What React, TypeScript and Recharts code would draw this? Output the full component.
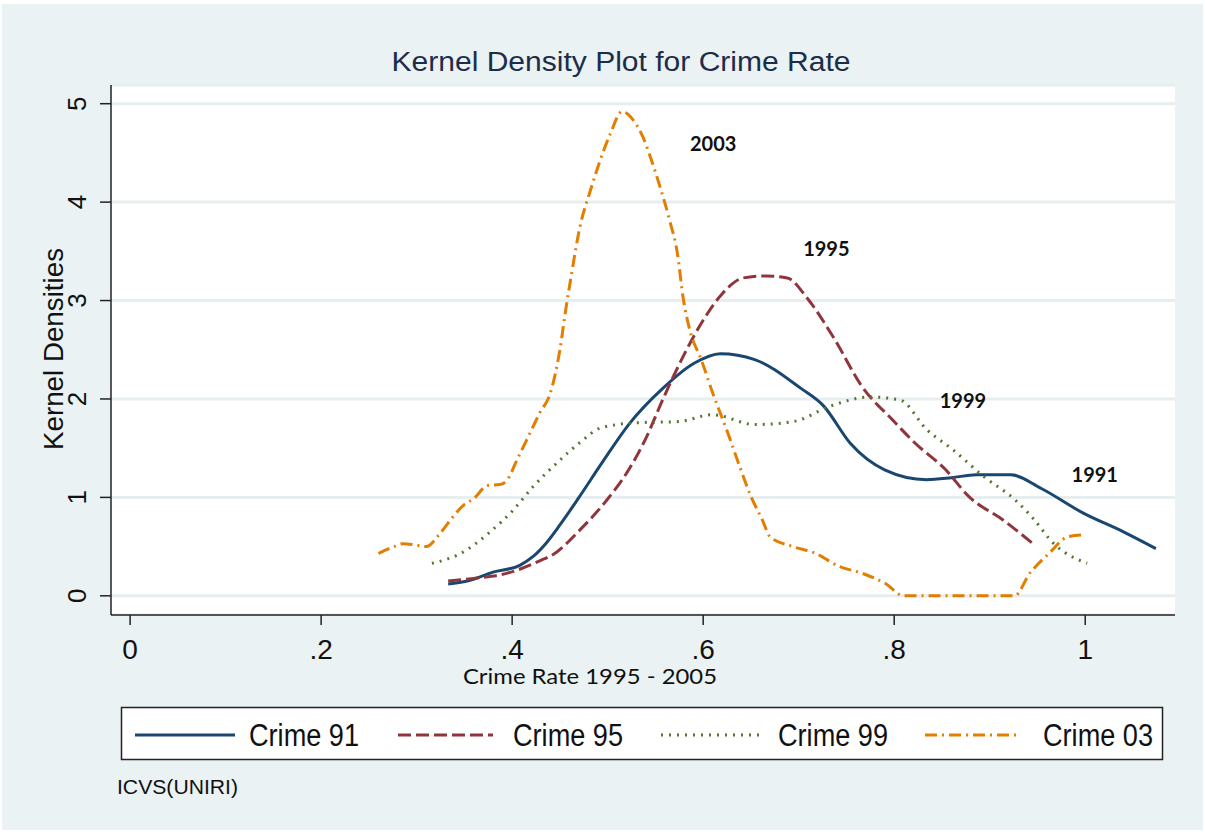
import { CartesianGrid, Line, LineChart, ReferenceDot, XAxis, YAxis } from "recharts";

// kernel density estimates, one pair of arrays per survey year
const crime91Rate = [0.333, 0.353, 0.38, 0.408, 0.422, 0.436, 0.45, 0.47, 0.494, 0.522, 0.558, 0.59, 0.618, 0.654, 0.702, 0.726, 0.754, 0.79, 0.834, 0.86, 0.886, 0.922, 0.954, 0.998, 1.04, 1.074];
const crime91Density = [0.12, 0.15, 0.24, 0.31, 0.4, 0.54, 0.72, 1.0, 1.35, 1.74, 2.11, 2.36, 2.46, 2.4, 2.11, 1.93, 1.55, 1.28, 1.18, 1.2, 1.23, 1.23, 1.09, 0.84, 0.65, 0.48];

const crime95Rate = [0.333, 0.363, 0.395, 0.43, 0.443, 0.47, 0.498, 0.522, 0.54, 0.558, 0.58, 0.6, 0.62, 0.642, 0.665, 0.688, 0.71, 0.738, 0.766, 0.798, 0.822, 0.854, 0.878, 0.914, 0.944];
const crime95Density = [0.15, 0.18, 0.23, 0.36, 0.42, 0.66, 0.96, 1.28, 1.6, 2.0, 2.45, 2.8, 3.07, 3.23, 3.25, 3.23, 3.01, 2.6, 2.13, 1.79, 1.55, 1.28, 1.01, 0.77, 0.54];

const crime99Rate = [0.316, 0.346, 0.377, 0.401, 0.422, 0.448, 0.47, 0.494, 0.534, 0.574, 0.61, 0.654, 0.694, 0.734, 0.774, 0.806, 0.834, 0.862, 0.894, 0.926, 0.946, 0.966, 1.002];
const crime99Density = [0.33, 0.43, 0.65, 0.87, 1.11, 1.36, 1.55, 1.71, 1.76, 1.77, 1.84, 1.74, 1.77, 1.93, 2.02, 1.99, 1.69, 1.48, 1.21, 0.98, 0.78, 0.54, 0.33];

const crime03Rate = [0.26, 0.276, 0.286, 0.297, 0.31, 0.325, 0.337, 0.349, 0.36, 0.374, 0.387, 0.395, 0.405, 0.415, 0.429, 0.44, 0.45, 0.456, 0.461, 0.471, 0.482, 0.492, 0.503, 0.515, 0.527, 0.537, 0.545, 0.555, 0.565, 0.573, 0.579, 0.586, 0.598, 0.61, 0.626, 0.638, 0.65, 0.662, 0.67, 0.694, 0.718, 0.742, 0.766, 0.79, 0.81, 0.87, 0.926, 0.942, 0.962, 0.982, 1.0];
const crime03Density = [0.43, 0.5, 0.53, 0.52, 0.5, 0.64, 0.79, 0.92, 0.99, 1.12, 1.13, 1.18, 1.38, 1.58, 1.86, 2.06, 2.5, 2.9, 3.2, 3.75, 4.12, 4.42, 4.7, 4.92, 4.83, 4.66, 4.45, 4.15, 3.81, 3.48, 3.03, 2.7, 2.4, 2.06, 1.65, 1.32, 1.01, 0.77, 0.6, 0.5, 0.43, 0.3, 0.23, 0.13, 0, 0, 0, 0.23, 0.43, 0.6, 0.62];

const seriesNames = ["Crime 91", "Crime 95", "Crime 99", "Crime 03"];
const xTicks = [0, 0.2, 0.4, 0.6, 0.8, 1];
const yTicks = [0, 1, 2, 3, 4, 5];

// year tags written next to each curve (anchored in data units)
const yearTags = ["2003", "1995", "1999", "1991"];
const yearTagRate = [0.6105, 0.729, 0.872, 1.01];
const yearTagDensity = [4.59, 3.52, 1.985, 1.233];

const toPoints = (rate: number[], density: number[]) =>
  rate.map((r, i) => ({ rate: r, density: density[i] }));

const SANS = "'Liberation Sans', Arial, sans-serif";
const CALIBRI_LIKE = "Lato, 'Open Sans', sans-serif";

const styles = [
  { color: "#1a476f", dash: undefined as string | undefined },
  { color: "#90353b", dash: "13 5" },
  { color: "#55752f", dash: "2 6" },
  { color: "#e37e00", dash: "12 5 2 5" },
];

const series = [
  toPoints(crime91Rate, crime91Density),
  toPoints(crime95Rate, crime95Density),
  toPoints(crime99Rate, crime99Density),
  toPoints(crime03Rate, crime03Density),
];

const fmtRate = (v: number) => String(v).replace(/^0\./, ".");

function XTick(props: any) {
  const { x, y, payload } = props;
  return (
    <text x={x} y={y + 34} textAnchor="middle" fontSize={28} fontFamily={SANS} fill="#111">
      {fmtRate(payload.value)}
    </text>
  );
}

function YTick(props: any) {
  const { x, y, payload } = props;
  const bx = x - 14;
  return (
    <text
      x={bx}
      y={y}
      transform={`rotate(-90 ${bx} ${y})`}
      textAnchor="middle"
      fontSize={26}
      fontFamily={SANS}
      fill="#111"
    >
      {payload.value}
    </text>
  );
}

function Overlay() {
  const legendX = [135, 398, 661, 925];
  const legendEnd = [235, 493, 763, 1016];
  const textX = [249, 513, 778, 1043];
  return (
    <svg
      width={1205}
      height={832}
      style={{ position: "absolute", left: 0, top: 0, pointerEvents: "none" }}
    >
      <text x={621} y={71} textAnchor="middle" fontSize={27} fontFamily={SANS} fill="#1c2d4a" textLength={459} lengthAdjust="spacingAndGlyphs">
        Kernel Density Plot for Crime Rate
      </text>
      <text
        x={63}
        y={349}
        transform="rotate(-90 63 349)"
        textAnchor="middle"
        fontSize={27}
        fontFamily={SANS}
        fill="#111"
        textLength={202}
        lengthAdjust="spacingAndGlyphs"
      >
        Kernel Densities
      </text>
      <text x={463} y={684} fontSize={21} fontFamily={CALIBRI_LIKE} fill="#111" textLength={254} lengthAdjust="spacingAndGlyphs">
        Crime Rate 1995 - 2005
      </text>

      <rect x={121.5} y={707.5} width={1041} height={52} fill="#fff" stroke="#222" strokeWidth={1.5} />
      {seriesNames.map((name, i) => (
        <g key={name}>
          <line
            x1={legendX[i]}
            x2={legendEnd[i]}
            y1={735}
            y2={735}
            stroke={styles[i].color}
            strokeWidth={3}
            strokeDasharray={styles[i].dash}
          />
          <text x={textX[i]} y={746} fontSize={31} fontFamily={SANS} fill="#111" textLength={110} lengthAdjust="spacingAndGlyphs">
            {name}
          </text>
        </g>
      ))}

      <text x={117} y={794} fontSize={20} fontFamily={SANS} fill="#111" textLength={121} lengthAdjust="spacingAndGlyphs">
        ICVS(UNIRI)
      </text>
    </svg>
  );
}

export default function App() {
  return (
    <div style={{ position: "fixed", left: 0, top: 0, width: 1205, height: 832, background: "#fff" }}>
      <div style={{ position: "absolute", left: 2, top: 4, width: 1201, height: 826, background: "#eaf2f3" }} />
      <div style={{ position: "absolute", left: 0, top: 0 }}>
        <LineChart width={1205} height={832} margin={{ top: 85, right: 30, bottom: 0, left: 0 }}>
          <CartesianGrid vertical={false} fill="#fff" fillOpacity={1} stroke="#e6eef0" strokeWidth={3} />
          <XAxis
            type="number"
            dataKey="rate"
            domain={[-0.02, 1.094]}
            ticks={xTicks}
            interval={0}
            allowDataOverflow
            height={217}
            tickSize={10}
            tickMargin={0}
            axisLine={{ stroke: "#222", strokeWidth: 1.5 }}
            tickLine={{ stroke: "#222", strokeWidth: 1.5 }}
            tick={XTick}
          />
          <YAxis
            type="number"
            domain={[-0.195, 5.19]}
            ticks={yTicks}
            interval={0}
            allowDataOverflow
            width={111}
            tickSize={11}
            tickMargin={0}
            axisLine={{ stroke: "#222", strokeWidth: 1.5 }}
            tickLine={{ stroke: "#222", strokeWidth: 1.5 }}
            tick={YTick}
          />
          {series.map((data, i) => (
            <Line
              key={seriesNames[i]}
              name={seriesNames[i]}
              data={data}
              dataKey="density"
              type="monotone"
              stroke={styles[i].color}
              strokeWidth={3}
              strokeDasharray={styles[i].dash}
              dot={false}
              activeDot={false}
              isAnimationActive={false}
            />
          ))}
          {yearTags.map((tag, i) => (
            <ReferenceDot
              key={tag}
              x={yearTagRate[i]}
              y={yearTagDensity[i]}
              r={0}
              fill="none"
              stroke="none"
              label={{
                value: tag,
                position: "center",
                fontSize: 20,
                fontWeight: 700,
                fontFamily: CALIBRI_LIKE,
                fill: "#111",
              }}
            />
          ))}
        </LineChart>
      </div>
      <Overlay />
    </div>
  );
}
